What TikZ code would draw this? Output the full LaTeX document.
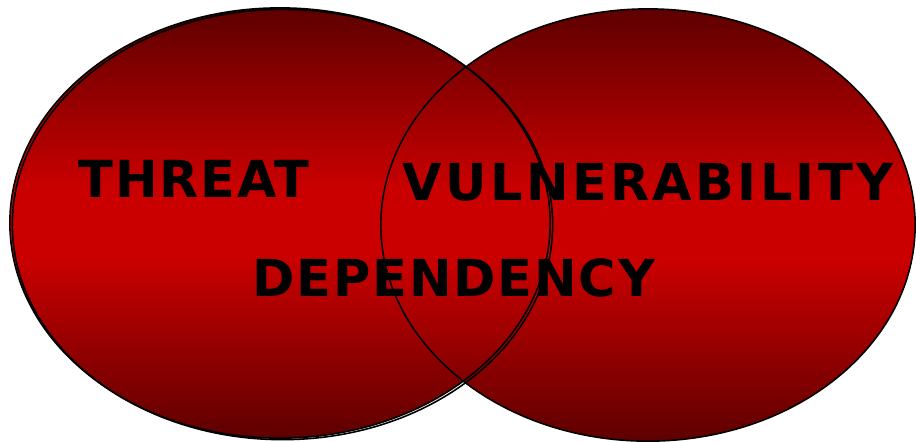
\documentclass[tikz,border=0pt]{standalone}
\usepackage{fontspec}
\setsansfont[LetterSpace=3.5]{DejaVu Sans}
\usepackage{tikz}
\usetikzlibrary{positioning}
\definecolor{blobdark}{RGB}{94,0,0}
\definecolor{blobred}{RGB}{202,0,0}
\pgfdeclareverticalshading{blobshade}{100bp}{color(0bp)=(blobdark); color(25bp)=(blobdark);
	color(46bp)=(blobred); color(54bp)=(blobred); color(75bp)=(blobdark); color(100bp)=(blobdark)}

\begin{document}
\begin{tikzpicture}[x=0.01cm, y=-0.01cm,
		blobfill/.style={shading=blobshade},
		rim/.style={draw=black, line width=0.45pt},
		lbl/.style={font=\sffamily\bfseries\fontsize{14.5}{17}\selectfont, anchor=base, inner sep=0pt}]
			\useasboundingbox (0,0) rectangle (916,441);
			% the two sets
			\shade[blobfill] (280,223) ellipse [x radius=2.70cm, y radius=2.15cm];
			\shade[blobfill] (648,225) ellipse [x radius=2.67cm, y radius=2.16cm];
			\draw[rim] (282.5,224.5) ellipse [x radius=2.70cm, y radius=2.15cm];
			\draw[rim] (280,223) ellipse [x radius=2.70cm, y radius=2.15cm];
			\draw[rim] (648,225) ellipse [x radius=2.67cm, y radius=2.16cm];
			% labels
			\node[lbl] (threat) at (194,197) {THREAT};
			\node[lbl] (vulnerability) at (648,200) {\addfontfeatures{LetterSpace=6.5}VULNERABILITY};
			\node[lbl] (dependency) at (454,296) {DEPENDENCY};
		\end{tikzpicture}
\end{document}
